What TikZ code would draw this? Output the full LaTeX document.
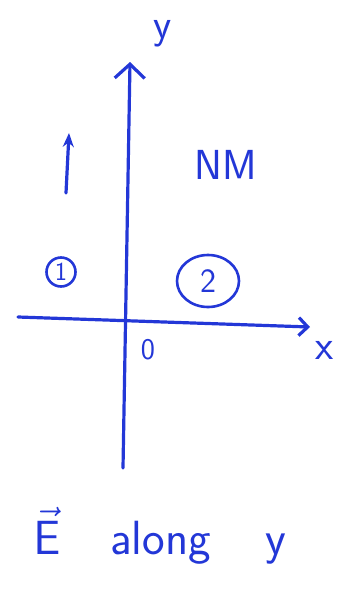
\RequirePackage{fix-cm}
\documentclass[tikz,border=0pt]{standalone}
\usepackage{amsmath}
\usepackage{tikz}
\usetikzlibrary{arrows.meta,calc,positioning,shapes.geometric}
\definecolor{ink}{RGB}{35,55,215}

\begin{document}
\begin{tikzpicture}[x=1pt,y=-1pt,
    axis/.style={draw=ink, line width=3.2pt, line cap=round},
    lbl/.style={text=ink, font=\sffamily\fontsize{42}{46}\selectfont, inner sep=0pt},
    region/.style={draw=ink, line width=2.6pt, text=ink, inner sep=0pt}]
            \useasboundingbox (0,0) rectangle (343,592);
            % Draw the two axes
            \coordinate (O) at (127,320);
            \coordinate (ytip) at (130,62);
            \coordinate (ybot) at (123,468);
            \coordinate (xtail) at (18,317);
            \coordinate (xtip) at (310,327);
            \draw[axis, -{Straight Barb[length=14pt,width=30pt]}] (ybot) -- (ytip);
            \draw[axis, -{Straight Barb[length=9pt,width=18pt]}] (xtail) -- (xtip);
            % Label the axes and the origin
            \node[lbl] (ylab) at (163,34) {y};
            \node[lbl] (xlab) at (325,350) {x};
            \node[lbl, font=\sffamily\fontsize{30}{32}\selectfont] (orig) at (148,350) {0};
            % The field arrow on the left
            \coordinate (ftail) at (66,193);
            \coordinate (fhead) at (69,133);
            \draw[axis, -{Stealth[length=14pt,width=11pt]}] (ftail) -- (fhead);
            % Label the medium
            \node[lbl, font=\sffamily\fontsize{42}{46}\selectfont] (nm) at (226,165) {NM};
            % Mark the two regions
            \node[region, circle, minimum size=29pt, font=\sffamily\fontsize{26}{28}\selectfont] (one) at (61,272) {1};
            \node[region, ellipse, minimum width=62pt, minimum height=52pt, font=\sffamily\fontsize{34}{36}\selectfont] (two) at (208,281) {2};
            % The caption below
            \node[lbl, font=\sffamily\fontsize{48}{52}\selectfont] (cap) at (160,536) {$\vec{\mathsf{E}}$\hspace{50pt}along\hspace{55pt}y};
          \end{tikzpicture}
\end{document}
